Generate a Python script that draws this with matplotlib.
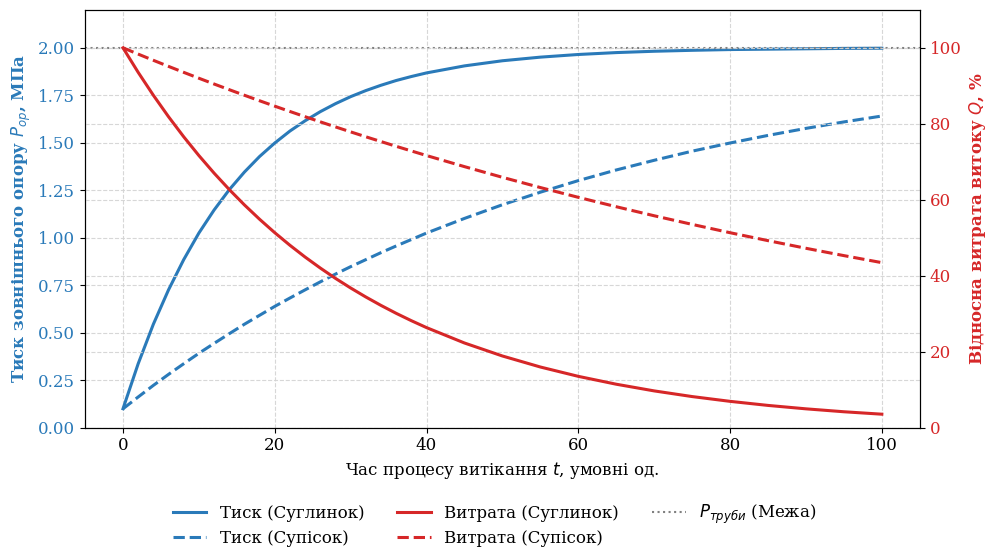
import numpy as np
import matplotlib
matplotlib.use("Agg")
import matplotlib.pyplot as plt

plt.rcParams['font.family'] = ['DejaVu Serif']
plt.rcParams['mathtext.fontset'] = 'dejavusans'

# час, умовні од.
t = [0, 2, 4, 6, 8, 10, 12, 14, 16, 18, 20, 22, 24, 26, 28, 30, 32, 34, 36, 38, 40,
     45, 50, 55, 60, 65, 70, 75, 80, 85, 90, 95, 100]

# тиск, МПа
p_sugl = [0.10, 0.337, 0.545, 0.726, 0.885, 1.025, 1.146, 1.253, 1.346, 1.428, 1.499,
          1.562, 1.616, 1.664, 1.706, 1.743, 1.775, 1.803, 1.828, 1.849, 1.868,
          1.905, 1.932, 1.951, 1.965, 1.975, 1.982, 1.987, 1.991, 1.993, 1.995, 1.997, 1.998]
p_supis = [0.10, 0.162, 0.223, 0.281, 0.337, 0.392, 0.444, 0.495, 0.545, 0.592, 0.639,
           0.683, 0.726, 0.768, 0.809, 0.848, 0.885, 0.922, 0.957, 0.991, 1.025,
           1.102, 1.174, 1.240, 1.301, 1.357, 1.408, 1.456, 1.499, 1.539, 1.576, 1.610, 1.641]

# витрата, %
q_sugl = [100, 93.55, 87.52, 81.87, 76.59, 71.65, 67.03, 62.71, 58.66, 54.88, 51.34,
          48.03, 44.93, 42.04, 39.32, 36.79, 34.42, 32.20, 30.12, 28.18, 26.36,
          22.31, 18.89, 15.99, 13.53, 11.46, 9.70, 8.21, 6.95, 5.88, 4.98, 4.21, 3.57]
q_supis = [100, 98.35, 96.72, 95.12, 93.55, 92.00, 90.48, 88.99, 87.52, 86.07, 84.65,
           83.25, 81.87, 80.52, 79.19, 77.88, 76.59, 75.33, 74.08, 72.86, 71.65,
           68.73, 65.92, 63.23, 60.65, 58.18, 55.80, 53.53, 51.34, 49.25, 47.24, 45.31, 43.46]

p_pipe = 2.0

blue = '#2a7ab9'
red = '#d62728'

fig, ax1 = plt.subplots(figsize=(9.89, 5.47), dpi=100)
fig.subplots_adjust(left=0.086, right=0.930, top=0.982, bottom=0.218)

l1, = ax1.plot(t, p_sugl, color=blue, lw=2.2, label='Тиск (Суглинок)')
l2, = ax1.plot(t, p_supis, color=blue, lw=2.2, ls='--', label='Тиск (Супісок)')
l5 = ax1.axhline(p_pipe, color='gray', ls=':', lw=1.5, label='$P_{труби}$ (Межа)')
ax1.set_ylim(0, 2.2)
ax1.set_yticks(np.arange(0, 2.01, 0.25))
ax1.set_xlabel('Час процесу витікання $t$, умовні од.', fontsize=12)
ax1.set_ylabel('Тиск зовнішнього опору $P_{op}$, МПа', color=blue, fontsize=12, fontweight='bold')
ax1.tick_params(axis='y', labelcolor=blue, labelsize=12)
ax1.tick_params(axis='x', labelsize=12)
ax1.grid(True, ls='--', color='lightgray', alpha=0.9)

ax2 = ax1.twinx()
l3, = ax2.plot(t, q_sugl, color=red, lw=2.2, label='Витрата (Суглинок)')
l4, = ax2.plot(t, q_supis, color=red, lw=2.2, ls='--', label='Витрата (Супісок)')
ax2.set_ylim(0, 110)
ax2.set_yticks(np.arange(0, 101, 20))
ax2.set_ylabel('Відносна витрата витоку $Q$, %', color=red, fontsize=12, fontweight='bold')
ax2.tick_params(axis='y', labelcolor=red, labelsize=12)
ax2.grid(True, ls='--', color='lightgray', alpha=0.9)

fig.legend(handles=[l1, l2, l3, l4, l5], loc='lower center', ncol=3, frameon=False,
           fontsize=12, bbox_to_anchor=(0.5, -0.028))

fig.savefig('out.png', dpi=100)
